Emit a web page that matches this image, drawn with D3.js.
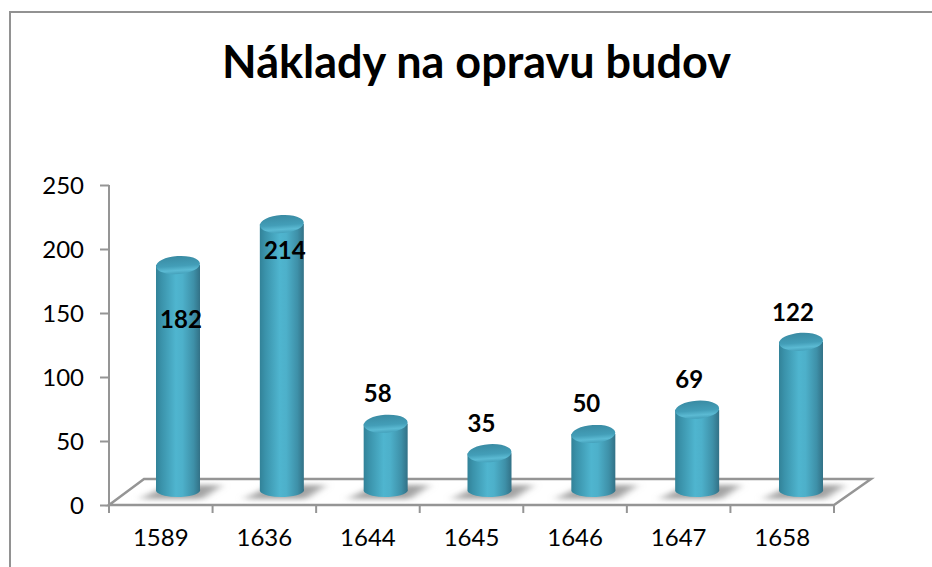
<!DOCTYPE html>
<html><head><meta charset="utf-8">
<script src="https://cdn.jsdelivr.net/npm/d3@7"></script>
<style>html,body{margin:0;padding:0;background:#fff}svg{display:block}text{font-family:Lato,"Open Sans",sans-serif}</style>
</head><body><svg id="c" width="932" height="567"></svg>
<script>
const chartTitle = "Náklady na opravu budov";
const years = ["1589","1636","1644","1645","1646","1647","1658"];
const costs = [182,214,58,35,50,69,122];
const yTicks = [0,50,100,150,200,250];
const labelOffsets = [[3,-55],[3,-27],[-8,30],[-8,29],[-7,30],[-8,30],[-8,29]];

const svg = d3.select("#c");
const defs = svg.append("defs");
const body = defs.append("linearGradient").attr("id","body");
[[0,"#328298"],[.12,"#3a92aa"],[.45,"#4fb5cf"],[.6,"#4db0ca"],[.85,"#3e90a8"],[1,"#327085"]]
  .forEach(s=>body.append("stop").attr("offset",s[0]).attr("stop-color",s[1]));
const cap = defs.append("linearGradient").attr("id","cap").attr("x1",0).attr("x2",0).attr("y1",0).attr("y2",1);
[[0,"#3a8ba3"],[.55,"#439eb8"],[.8,"#5bbad3"],[1,"#44a0ba"]]
  .forEach(s=>cap.append("stop").attr("offset",s[0]).attr("stop-color",s[1]));
defs.append("filter").attr("id","blur").attr("x","-10%").attr("width","120%").attr("y","-50%").attr("height","200%")
  .append("feGaussianBlur").attr("stdDeviation","5 2.5");

// frame
svg.append("path").attr("d","M10,567V12H932").attr("fill","none").attr("stroke","#929292").attr("stroke-width",2);

svg.append("text").attr("x",476.5).attr("y",78).attr("text-anchor","middle")
  .attr("font-size",45).attr("font-weight",700).attr("fill","#000").text(chartTitle);

const axisColor = "#959595";
const y = d3.scaleLinear().domain([0,250]).range([505,185]);
const x = d3.scaleBand().domain(years).range([109,834]);
const barX = d3.scalePoint().domain(years).range([178,801]);
const barY = d3.scaleLinear().domain([0,250]).range([498,178]);
const base = 491;

// y axis
const gy = svg.append("g").attr("transform","translate(109,0)")
  .call(d3.axisLeft(y).tickValues(yTicks).tickSize(9).tickPadding(6));
gy.selectAll("path,line").attr("stroke",axisColor).attr("stroke-width",2);
gy.select(".domain").attr("d","M0,185V505");
gy.selectAll("text").attr("font-size",24).attr("fill","#000").attr("dy","0.34em").attr("x",-25);

// floor
const fx0=x.range()[0], fx1=x.range()[1], fy=y(0);
svg.append("path").attr("fill","#fff").attr("stroke",axisColor).attr("stroke-width",2.5)
  .attr("d",`M${fx0},${fy}L${fx0+35},${fy-26}H${fx1+37}L${fx1},${fy}Z`);

// x axis
const gx = svg.append("g").attr("transform",`translate(0,${fy})`)
  .call(d3.axisBottom(x).tickSize(0).tickPadding(0));
gx.select(".domain").remove();
gx.selectAll(".tick line").remove();
gx.selectAll("text").attr("y",33).attr("dy","0.34em").attr("font-size",24).attr("fill","#000");
svg.append("g").selectAll("line").data(years.concat("end")).join("line")
  .attr("x1",d=>d==="end"?fx1:x(d)).attr("x2",d=>d==="end"?fx1:x(d))
  .attr("y1",fy).attr("y2",fy+8).attr("stroke",axisColor).attr("stroke-width",2);

const rx = 22, ry = 9;
const data = years.map((d,i)=>({year:d,v:costs[i],off:labelOffsets[i]}));

// shadows
svg.append("g").attr("filter","url(#blur)").selectAll("path").data(data).join("path")
  .attr("fill","#a3a3a3")
  .attr("d",d=>{const c=barX(d.year);return `M${c-38},${base+8}L${c-10},${base-6}H${c+44}L${c+24},${base+8}Z`;});

const bars = svg.append("g").selectAll("g").data(data).join("g");
bars.append("path").attr("fill","url(#body)").attr("d",d=>{
  const c=barX(d.year), t=barY(d.v);
  return `M${c-rx},${t}V${base}A${rx},${ry-2},0,0,0,${c+rx},${base-2}V${t}Z`;
});
bars.append("ellipse").attr("fill","url(#cap)")
  .attr("cx",d=>barX(d.year)).attr("cy",d=>barY(d.v)).attr("rx",rx).attr("ry",ry)
  .attr("transform",d=>`rotate(-4 ${barX(d.year)} ${barY(d.v)})`);

bars.append("text").attr("text-anchor","middle").attr("font-size",24).attr("font-weight",700).attr("fill","#000")
  .attr("x",d=>barX(d.year)+d.off[0])
  .attr("y",d=>barY(d.v)-d.off[1])
  .attr("dy","0.34em")
  .text(d=>d.v);
</script></body></html>
